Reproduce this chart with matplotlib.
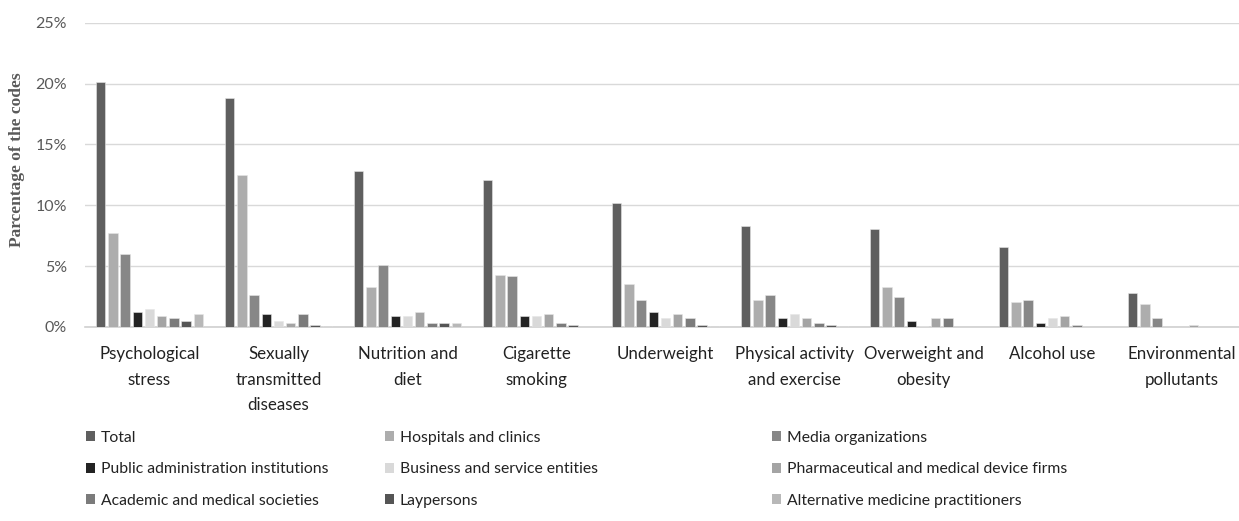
import numpy as np
import matplotlib
matplotlib.use("Agg")
import matplotlib.pyplot as plt
from matplotlib.patches import Patch
from matplotlib.ticker import FuncFormatter

categories = ["Psychological\nstress", "Sexually\ntransmitted\ndiseases", "Nutrition and\ndiet",
              "Cigarette\nsmoking", "Underweight", "Physical activity\nand exercise",
              "Overweight and\nobesity", "Alcohol use", "Environmental\npollutants"]

series_names = ["Total", "Hospitals and clinics", "Media organizations",
                "Public administration institutions", "Business and service entities",
                "Pharmaceutical and medical device firms", "Academic and medical societies",
                "Laypersons", "Alternative medicine practitioners"]

total = [20.1, 18.8, 12.8, 12.1, 10.2, 8.3, 8.05, 6.6, 2.8]
hospitals = [7.7, 12.45, 3.3, 4.3, 3.55, 2.2, 3.3, 2.05, 1.85]
media = [6.0, 2.6, 5.1, 4.15, 2.2, 2.6, 2.45, 2.2, 0.75]
public_admin = [1.25, 1.1, 0.9, 0.9, 1.25, 0.75, 0.5, 0.35, 0]
business = [1.5, 0.5, 0.9, 0.9, 0.75, 1.1, 0.1, 0.75, 0]
pharma = [0.9, 0.35, 1.25, 1.1, 1.1, 0.75, 0.75, 0.9, 0.15]
academic = [0.75, 1.1, 0.35, 0.35, 0.75, 0.35, 0.75, 0.15, 0]
laypersons = [0.5, 0.15, 0.35, 0.15, 0.15, 0.15, 0, 0, 0]
alternative = [1.1, 0.1, 0.35, 0, 0.1, 0.1, 0, 0, 0]

series = [total, hospitals, media, public_admin, business, pharma, academic, laypersons, alternative]
colors = ["#5f5f5f", "#adadad", "#878787", "#232323", "#d9d9d9",
          "#a4a4a4", "#7b7b7b", "#555555", "#b8b8b8"]

plt.rcParams['font.family'] = ['Lato', 'DejaVu Sans']

fig = plt.figure(figsize=(12.39, 5.21), dpi=100)
# axes run a bit past the right edge, like the cropped original
ax = fig.add_axes([85 / 1239, 1 - 327 / 521, 1161 / 1239, 304.3 / 521])

x = np.arange(len(categories))
step = 0.0946
width = 0.072
for i, (vals, name, c) in enumerate(zip(series, series_names, colors)):
    ax.bar(x + (i - 4) * step, vals, width, color=c, label=name,
           edgecolor="#e6e6e6", linewidth=0.4, zorder=3)

ax.set_xlim(-0.5, len(categories) - 0.5)
ax.set_ylim(0, 25)
ax.set_yticks([0, 5, 10, 15, 20, 25])
ax.yaxis.set_major_formatter(FuncFormatter(lambda v, p: f"{v:.0f}%"))
ax.grid(axis="y", color="#d9d9d9", linewidth=1, zorder=0)
for s in ["top", "right", "left"]:
    ax.spines[s].set_visible(False)
ax.spines["bottom"].set_color("#d0d0d0")
ax.spines["bottom"].set_linewidth(1.2)
ax.tick_params(axis="y", length=0, pad=13, labelsize=11.5, labelcolor="#595959")
ax.tick_params(axis="x", length=0, pad=14, labelsize=12.2, labelcolor="#222222")
ax.set_xticks(x)
ax.set_xticklabels(categories, linespacing=1.72)

ax.set_ylabel("Parcentage of the codes", family=["Liberation Serif", "DejaVu Serif"],
              fontweight="bold", fontsize=12.5, color="#595959")
ax.yaxis.set_label_coords(-60 / 1161, (327 - 160) / 304.3)

# legend: three columns, filled row by row
xs = [86, 385, 772]
for col in range(3):
    idx = [col, col + 3, col + 6]
    handles = [Patch(facecolor=colors[k], edgecolor="none") for k in idx]
    fig.legend(handles, [series_names[k] for k in idx], loc="upper left",
               bbox_to_anchor=(xs[col] / 1239, 1 - 431 / 521), frameon=False,
               borderpad=0, borderaxespad=0, handlelength=0.6, handleheight=0.6,
               handletextpad=0.35, labelspacing=1.1, fontsize=11.3,
               labelcolor="#222222")

fig.savefig("out.png", dpi=100)
